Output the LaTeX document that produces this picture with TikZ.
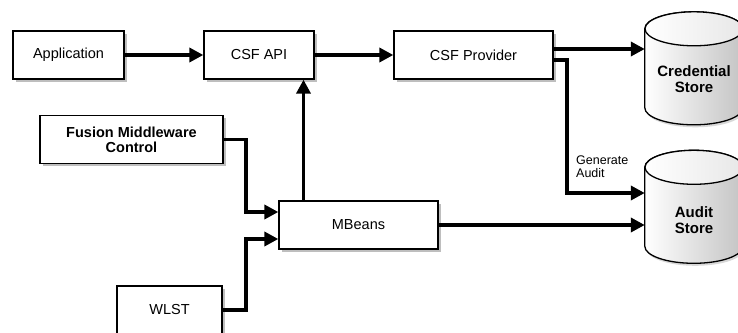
\documentclass[tikz,border=0pt]{standalone}
\usepackage{fontspec}
\setmainfont{Liberation Sans}
\usepackage{xcolor}
\usetikzlibrary{arrows.meta,positioning,shadows}
\definecolor{shadowgray}{HTML}{BEBEBE}
\definecolor{storegray}{HTML}{C4C4C4}
\definecolor{storeend}{HTML}{F0F0F0}

\begin{document}
\begin{tikzpicture}[
        x=1pt, y=-1pt,
        box/.style={
          draw=black,
          fill=white,
          line width=1.3pt,
          align=center,
          minimum height=48pt,
          font=\fontsize{14.5}{15}\selectfont,
          drop shadow={shadow xshift=2.5pt, shadow yshift=-2.5pt, fill=shadowgray, opacity=1}
        },
        store/.style={minimum width=98pt, minimum height=113pt, inner sep=0pt},
        storebody/.style={draw=black, line width=1.3pt, left color=white, right color=storegray,
          drop shadow={shadow xshift=1.5pt, shadow yshift=-2.5pt, fill=shadowgray, opacity=0.6}},
        storetop/.style={draw=black, line width=1.3pt, left color=white, right color=storeend!80!storegray},
        storelabel/.style={align=center, font=\fontsize{15}{16.5}\selectfont\bfseries},
        arrow/.style={-{Triangle[length=14pt,width=14pt]}, line width=3.8pt, draw=black}
      ]
        \useasboundingbox (0,0) rectangle (738,332);

        \node[box, minimum width=111pt] (app) at (68.5,55) {Application};
        \node[box, minimum width=110pt] (api) at (259,55) {CSF API};
        \node[box, minimum width=159pt] (prov) at (473.5,55) {CSF Provider};
        \node[box, minimum width=183pt, font=\fontsize{14.5}{15}\selectfont\bfseries] (fmc) at (131.5,139.5) {Fusion Middleware\\Control};
        \node[box, minimum width=159pt] (mb) at (358.5,225) {MBeans};
        \node[box, minimum width=105pt] (wlst) at (169.5,310) {WLST};

        \node[store] (cred) at (694,68.5) {};
        \node[store] (audit) at (694,207) {};
        \foreach \s in {cred,audit} {
          \path[storebody] (\s.north west) ++(0pt,-17pt) -- ++(0pt,-79pt)
            arc[start angle=180, end angle=360, x radius=49pt, y radius=17pt]
            -- ++(0pt,79pt)
            arc[start angle=0, end angle=180, x radius=49pt, y radius=17pt] -- cycle;
          \path[storetop] (\s.north) ++(0pt,-17pt) ellipse[x radius=49pt, y radius=17pt];
        }
        \node[storelabel] (credlbl) at (694,79) {Credential\\Store};
        \node[storelabel] (auditlbl) at (694,220) {Audit\\Store};

        \coordinate (gen) at (567,193);
        \node[anchor=west, align=left, font=\fontsize{12.5}{13}\selectfont, inner sep=0pt] (genlbl) at (576,166.5) {Generate\\Audit};

        \draw[arrow] (app.east) -- (api.west);
        \draw[arrow] (api.east) -- (prov.west);
        \draw[arrow] ([yshift=6pt]prov.east) -- ([yshift=6pt]prov.east -| cred.west);
        \draw[arrow] ([yshift=-5pt]prov.east) -| (gen) -- (gen -| audit.west);
        \draw[arrow] (mb.east) -- (mb.east -| audit.west);
        \draw[arrow] ([xshift=-55pt]mb.north) -- ([xshift=-55pt]mb.north |- api.south);
        \draw[arrow] (fmc.east) -| ([xshift=-32pt,yshift=13pt]mb.west) -- ([yshift=13pt]mb.west);
        \draw[arrow] (wlst.east) -| ([xshift=-32pt,yshift=-14pt]mb.west) -- ([yshift=-14pt]mb.west);
      \end{tikzpicture}
\end{document}
